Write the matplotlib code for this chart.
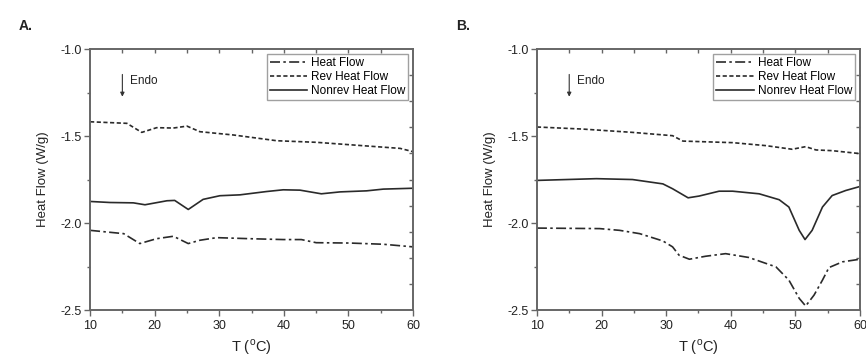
import matplotlib
matplotlib.use("Agg")
import matplotlib.pyplot as plt
import numpy as np

plt.rcParams['font.family'] = ['Liberation Sans', 'DejaVu Sans']

# Panel A
a_rev_T = [10, 15.7, 18, 20.3, 22.9, 25, 27, 32.2, 38.9, 45, 52.8, 58, 60]
a_rev_H = [-1.418, -1.427, -1.479, -1.452, -1.454, -1.443, -1.475, -1.494, -1.527, -1.536, -1.557, -1.571, -1.59]
a_non_T = [10, 13.1, 16.7, 18.5, 21.9, 23.1, 25.2, 27.5, 30.1, 33.2, 37.3, 39.9, 42.5, 45.8, 48.7, 52.8, 55.4, 60]
a_non_H = [-1.876, -1.882, -1.884, -1.895, -1.872, -1.870, -1.922, -1.864, -1.843, -1.838, -1.819, -1.809, -1.811, -1.832, -1.821, -1.815, -1.805, -1.80]
a_hf_T = [10, 15.2, 17.7, 20.3, 22.9, 25.2, 27, 29.6, 34.7, 39.9, 42.7, 45, 50.2, 55.4, 60]
a_hf_H = [-2.042, -2.061, -2.118, -2.090, -2.076, -2.118, -2.099, -2.084, -2.090, -2.095, -2.095, -2.113, -2.115, -2.122, -2.137]

# Panel B
b_rev_T = [10, 17.1, 24.8, 31, 32.6, 40.3, 45.4, 49.5, 51.6, 53.2, 55.7, 60]
b_rev_H = [-1.448, -1.46, -1.479, -1.498, -1.529, -1.538, -1.555, -1.576, -1.561, -1.580, -1.584, -1.601]
b_non_T = [10, 19.2, 24.8, 29.5, 31, 33.4, 35.1, 38.2, 40.3, 44.4, 47.5, 49, 50.6, 51.5, 52.6, 54.2, 55.7, 57.8, 60]
b_non_H = [-1.755, -1.745, -1.75, -1.775, -1.803, -1.855, -1.845, -1.817, -1.817, -1.832, -1.866, -1.908, -2.042, -2.095, -2.042, -1.908, -1.842, -1.813, -1.79]
b_hf_T = [10, 19.7, 22.8, 25.9, 29.5, 31, 32, 33.6, 36.1, 39.2, 42.8, 47, 49, 50.6, 51.6, 52.9, 54.2, 55.2, 57.3, 60]
b_hf_H = [-2.029, -2.032, -2.042, -2.061, -2.103, -2.137, -2.185, -2.208, -2.191, -2.176, -2.198, -2.252, -2.328, -2.433, -2.477, -2.414, -2.328, -2.256, -2.223, -2.208]

panels = [
    ("A.", a_hf_T, a_hf_H, a_rev_T, a_rev_H, a_non_T, a_non_H),
    ("B.", b_hf_T, b_hf_H, b_rev_T, b_rev_H, b_non_T, b_non_H),
]

fig = plt.figure(figsize=(8.66, 3.58), dpi=100)
lefts = [0.104, 0.620]
labpos = [(0.022, 0.915), (0.527, 0.915)]
lc = '#2a2a2a'
sc = '#666666'
for i, (lab, hT, hH, rT, rH, nT, nH) in enumerate(panels):
    ax = fig.add_axes([lefts[i], 0.134, 0.373, 0.729])
    ax.plot(hT, hH, color=lc, lw=1.2, dashes=(6, 2, 1.5, 2), label='Heat Flow')
    ax.plot(rT, rH, color=lc, lw=1.2, dashes=(2.5, 1.5), label='Rev Heat Flow')
    ax.plot(nT, nH, color=lc, lw=1.2, ls='-', label='Nonrev Heat Flow')
    ax.set_xlim(10, 60)
    ax.set_ylim(-2.5, -1.0)
    ax.set_xticks([10, 20, 30, 40, 50, 60])
    ax.set_xticks([15, 25, 35, 45, 55], minor=True)
    ax.set_yticks([-2.5, -2.0, -1.5, -1.0])
    ax.set_yticks([-2.25, -1.75, -1.25], minor=True)
    ax.yaxis.set_major_formatter(matplotlib.ticker.FormatStrFormatter('%.1f'))
    ax.tick_params(which='both', direction='out', colors=sc, labelcolor='#222222', labelsize=9, top=False, right=False)
    ax.tick_params(which='major', length=4, width=1)
    ax.tick_params(axis='x', which='major', pad=3)
    ax.tick_params(axis='y', which='major', pad=2)
    ax.tick_params(which='minor', length=2.5, width=1)
    for s in ax.spines.values():
        s.set_color(sc)
        s.set_linewidth(1.4)
    # top ticks
    axt = ax.secondary_xaxis('top')
    axt.set_xticks([15, 20, 25, 30, 35, 40, 45, 50, 55])
    axt.tick_params(direction='in', length=3, width=1, colors=sc, labeltop=False)
    axt.spines['top'].set_visible(False)
    axr = ax.secondary_yaxis('right')
    axr.set_yticks([-1.15, -1.30, -1.45, -1.60, -1.75, -1.90, -2.05, -2.20, -2.35])
    axr.tick_params(direction='in', length=3, width=1, colors=sc, labelright=False)
    axr.spines['right'].set_visible(False)
    ax.set_xlabel('T ($^{\\mathregular{o}}$C)', fontsize=10.5, color='#222222', labelpad=4)
    ax.set_ylabel('Heat Flow (W/g)', fontsize=9.5, color='#222222', labelpad=8)
    ax.annotate('', xy=(15, -1.29), xytext=(15, -1.13),
                arrowprops=dict(arrowstyle='-|>', color='#333333', lw=0.8, mutation_scale=6))
    ax.text(16.2, -1.185, 'Endo', fontsize=8.5, color='#222222', va='center')
    leg = ax.legend(loc='upper right', bbox_to_anchor=(0.985, 0.98), fontsize=8.5, frameon=True, fancybox=False,
                    handlelength=3.2, handletextpad=0.3, borderpad=0.25, labelspacing=0.15, borderaxespad=0)
    leg.get_frame().set_edgecolor('#888888')
    leg.get_frame().set_linewidth(1.0)
    fig.text(labpos[i][0], labpos[i][1], lab, fontsize=10, fontweight='bold', color='#222222')

fig.savefig('out.png', dpi=100)
